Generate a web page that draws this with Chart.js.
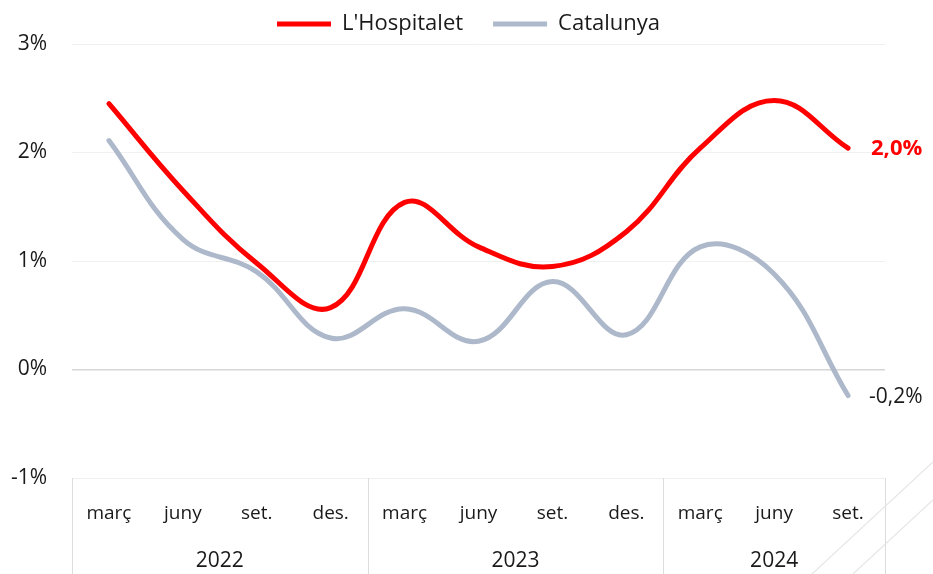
<!DOCTYPE html>
<html>
<head>
<meta charset="utf-8">
<script src="https://cdn.jsdelivr.net/npm/chart.js@4/dist/chart.umd.min.js"></script>
<style>
  html, body { margin: 0; padding: 0; background: #fff; }
  #wrap { width: 933px; height: 574px; position: relative; }
</style>
</head>
<body>
<div id="wrap"><canvas id="c"></canvas></div>
<script>
// ---- Data ----
const months = ['març','juny','set.','des.','març','juny','set.','des.','març','juny','set.'];
const years = ['2022','2023','2024'];
const yearStartIdx = [0, 4, 8];
const yearEndIdx = [3, 7, 10];
const hospitalet = [2.45, 1.65, 0.98, 0.57, 1.54, 1.13, 0.95, 1.27, 2.04, 2.48, 2.04];
const catalunya = [2.11, 1.20, 0.90, 0.29, 0.56, 0.26, 0.81, 0.32, 1.13, 0.88, -0.24];
const endLabels = ['2,0%', '-0,2%'];
const seriesNames = ["L'Hospitalet", 'Catalunya'];
const yTicks = [-1, 0, 1, 2, 3];

const FONT = '"Open Sans", "Noto Sans", sans-serif';
const RED = '#ff0000';
const GRAY = '#adb9cb';
const TEXT = '#1a1a1a';
const LEGEND_PAD = 30;

const legendTweak = {
  id: 'legendTweak',
  afterInit(chart) {
    const lg = chart.legend;
    if (!lg) return;
    const orig = lg.fit.bind(lg);
    lg.fit = function () { orig(); this.height = 44; };
  },
  afterLayout(chart) {
    const lg = chart.legend;
    if (!lg) return;
    lg.top = -17;
    lg.bottom = 44;
    lg.height = lg.bottom - lg.top;
    lg.left += 26;
    lg.right += 26;
  }
};

const extrasPlugin = {
  id: 'extras',
  afterDraw(chart) {
    const ctx = chart.ctx;
    const x = chart.scales.x;
    const y = chart.scales.y;
    ctx.save();
    // group separators in the category band
    const half = (x.getPixelForValue(1) - x.getPixelForValue(0)) / 2;
    const bounds = [x.getPixelForValue(0) - half];
    yearEndIdx.forEach(i => bounds.push(x.getPixelForValue(i) + half));
    ctx.strokeStyle = '#dcdcdc';
    ctx.lineWidth = 1;
    const top = y.getPixelForValue(-1);
    bounds.forEach(b => {
      const bx = Math.round(b) + 0.5;
      ctx.beginPath();
      ctx.moveTo(bx, top);
      ctx.lineTo(bx, chart.height);
      ctx.stroke();
    });
    // year labels
    ctx.fillStyle = TEXT;
    ctx.font = '21px ' + FONT;
    ctx.textAlign = 'center';
    ctx.textBaseline = 'middle';
    years.forEach((yr, i) => {
      const cx = (x.getPixelForValue(yearStartIdx[i]) + x.getPixelForValue(yearEndIdx[i])) / 2;
      ctx.fillText(yr, cx, 561);
    });
    // end labels
    const last = months.length - 1;
    ctx.textAlign = 'left';
    ctx.font = 'bold 22px ' + FONT;
    ctx.fillStyle = RED;
    ctx.fillText(endLabels[0], x.getPixelForValue(last) + 23, y.getPixelForValue(hospitalet[last]) + 1);
    ctx.font = '21px ' + FONT;
    ctx.fillStyle = TEXT;
    ctx.fillText(endLabels[1], x.getPixelForValue(last) + 21, y.getPixelForValue(catalunya[last]) + 1);
    // faint decorative diagonal
    ctx.strokeStyle = '#e6e6e6';
    ctx.lineWidth = 1.2;
    ctx.beginPath();
    ctx.moveTo(933, 462); ctx.lineTo(812, 574);
    ctx.moveTo(933, 500); ctx.lineTo(853, 574);
    ctx.stroke();
    ctx.restore();
  }
};

new Chart(document.getElementById('c'), {
  type: 'line',
  data: {
    labels: months,
    datasets: [
      { label: seriesNames[0], data: hospitalet, borderColor: RED, backgroundColor: RED,
        borderWidth: 5, pointRadius: 0, tension: 0.4, borderCapStyle: 'round', borderJoinStyle: 'round' },
      { label: seriesNames[1], data: catalunya, borderColor: GRAY, backgroundColor: GRAY,
        borderWidth: 5, pointRadius: 0, tension: 0.4, borderCapStyle: 'round', borderJoinStyle: 'round' }
    ]
  },
  options: {
    responsive: true,
    maintainAspectRatio: false,
    animation: false,
    layout: { padding: { left: 0, right: 48, top: 0, bottom: 0 } },
    plugins: {
      legend: {
        position: 'top',
        labels: {
          usePointStyle: true,
          pointStyle: 'line',
          pointStyleWidth: 54,
          color: TEXT,
          font: { family: FONT, size: 22 },
          padding: LEGEND_PAD
        }
      },
      tooltip: { enabled: false }
    },
    scales: {
      x: {
        offset: true,
        grid: { display: false, drawTicks: false },
        border: { display: false },
        ticks: { color: TEXT, font: { family: FONT, size: 19 }, padding: 24, maxRotation: 0, autoSkip: false },
        afterFit(s) { s.height = 96; }
      },
      y: {
        min: -1, max: 3,
        afterBuildTicks(s) { s.ticks = yTicks.map(v => ({ value: v })); },
        grid: {
          drawTicks: false,
          color: c => c.tick && c.tick.value === 0 ? '#d6d6d6' : '#f0f0f0',
          lineWidth: c => c.tick && c.tick.value === 0 ? 1.5 : 1
        },
        border: { display: false },
        ticks: { color: TEXT, font: { family: FONT, size: 21 }, padding: 25, callback: v => v + '%' },
        afterFit(s) { s.width = 72; }
      }
    }
  },
  plugins: [legendTweak, extrasPlugin]
});
</script>
</body>
</html>
